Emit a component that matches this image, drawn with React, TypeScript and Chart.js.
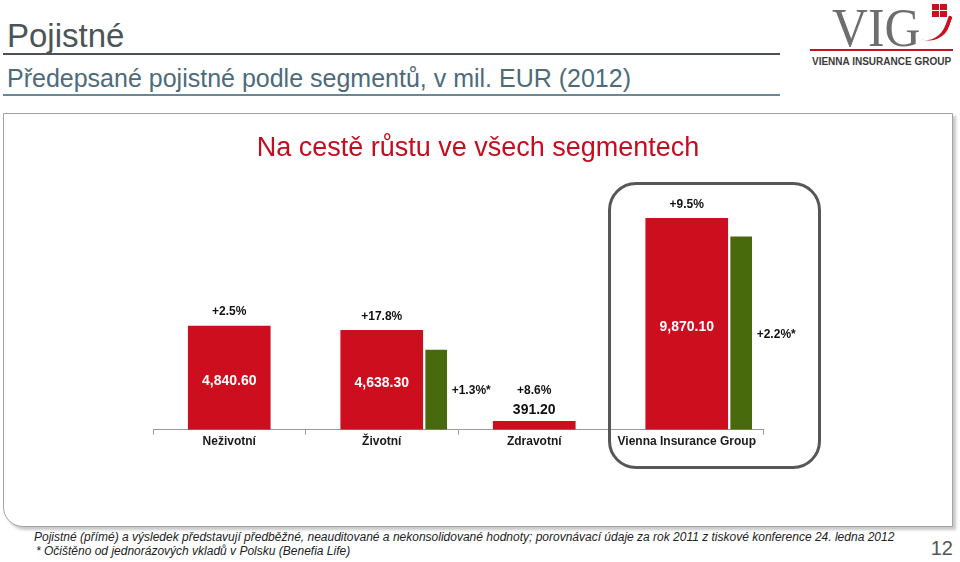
import React, { useEffect, useRef } from "react";
import { Chart, registerables } from "chart.js";

Chart.register(...registerables);

// ---- data ----
const categories = ["Neživotní", "Životní", "Zdravotní", "Vienna Insurance Group"];
const premiums2012 = [4840.6, 4638.3, 391.2, 9870.1];
const premiumsAdjusted: (number | null)[] = [null, 3720, null, 9010];
const growthLabels = ["+2.5%", "+17.8%", "+8.6%", "+9.5%"];
const adjustedGrowthLabels: (string | null)[] = [null, "+1.3%*", null, "+2.2%*"];
const valueLabels = ["4,840.60", "4,638.30", "391.20", "9,870.10"];
const chartTitle = "Na cestě růstu ve všech segmentech";

const RED = "#cc0e1f";
const GREEN = "#486a0c";
const FONT = "'Liberation Sans', Arial, Helvetica, sans-serif";

const labelPlugin = {
  id: "barLabels",
  afterDatasetsDraw(chart: any) {
    const ctx = chart.ctx;
    ctx.save();
    ctx.textAlign = "center";
    ctx.textBaseline = "middle";
    const red = chart.getDatasetMeta(0);
    red.data.forEach((bar: any, i: number) => {
      const { x, y, base } = bar.getProps(["x", "y", "base"], true);
      const h = base - y;
      if (h > 40) {
        ctx.fillStyle = "#ffffff";
        ctx.font = `bold 14px ${FONT}`;
        ctx.fillText(valueLabels[i], x, (y + base) / 2 + 3);
        ctx.fillStyle = "#111111";
        ctx.font = `bold 12px ${FONT}`;
        ctx.fillText(growthLabels[i], x, y - 14);
      } else {
        ctx.fillStyle = "#111111";
        ctx.font = `bold 14px ${FONT}`;
        ctx.fillText(valueLabels[i], x, y - 11);
        ctx.font = `bold 12px ${FONT}`;
        ctx.fillText(growthLabels[i], x, y - 31);
      }
    });
    const green = chart.getDatasetMeta(1);
    const gData = chart.data.datasets[1].data as any[];
    ctx.textAlign = "left";
    ctx.fillStyle = "#111111";
    ctx.font = `bold 12px ${FONT}`;
    green.data.forEach((bar: any, j: number) => {
      const { x, y, base, width } = bar.getProps(["x", "y", "base", "width"], true);
      const lbl = adjustedGrowthLabels[gData[j].idx];
      if (lbl) ctx.fillText(lbl, x + width / 2 + 5, (y + base) / 2 + 1);
    });
    ctx.restore();
  },
};

function BarChart() {
  const ref = useRef<HTMLCanvasElement>(null);
  useEffect(() => {
    if (!ref.current) return;
    const greenData = premiumsAdjusted
      .map((v, i) => (v == null ? null : { x: i + 0.357, y: v, idx: i }))
      .filter(Boolean);
    const chart = new Chart(ref.current, {
      type: "bar",
      data: {
        labels: categories,
        datasets: [
          { data: premiums2012, backgroundColor: RED, barThickness: 82, grouped: false, xAxisID: "x", yAxisID: "y" } as any,
          { data: greenData, backgroundColor: GREEN, barThickness: 21, grouped: false, xAxisID: "x2", yAxisID: "y" } as any,
        ],
      },
      options: {
        responsive: false,
        animation: false,
        events: [],
        layout: { padding: { left: 150, right: 190, top: 77, bottom: 77 } },
        plugins: {
          legend: { display: false },
          tooltip: { enabled: false },
          title: { display: false },
        },
        scales: {
          x: {
            type: "category",
            offset: true,
            grid: { display: true, offset: true, drawOnChartArea: false, drawTicks: true, tickLength: 5, color: "#9a9a9a" },
            border: { display: true, color: "#9a9a9a" },
            ticks: { color: "#1a1a1a", font: { size: 12, weight: "bold" as any, family: FONT }, padding: 0, maxRotation: 0, minRotation: 0, autoSkip: false },
          },
          x2: { type: "linear", display: false, min: -0.5, max: 3.5, offset: false },
          y: { display: false, min: 0, max: 11200 },
        } as any,
      },
      plugins: [labelPlugin],
    });
    return () => chart.destroy();
  }, []);
  return (
    <canvas ref={ref} width={950} height={413} style={{ position: "absolute", left: 3, top: 113, width: 950, height: 413 }} />
  );
}

export default function App() {
  return (
    <div style={{ position: "absolute", left: 0, top: 0, width: 960, height: 562, overflow: "hidden", background: "#fff", fontFamily: FONT }}>
      {/* header */}
      <div style={{ position: "absolute", left: 7, top: 19, fontSize: 33, lineHeight: "33px", color: "#4b5558", whiteSpace: "nowrap" }}>Pojistné</div>
      <div style={{ position: "absolute", left: 3, top: 53, width: 777, height: 2, background: "#4a5356" }} />
      <div style={{ position: "absolute", left: 7, top: 66, fontSize: 25, lineHeight: "25px", color: "#4d6b7a", whiteSpace: "nowrap" }}>Předepsané pojistné podle segmentů, v mil. EUR (2012)</div>
      <div style={{ position: "absolute", left: 3, top: 94, width: 777, height: 2, background: "#6a8796" }} />

      {/* logo */}
      <div style={{ position: "absolute", left: 832, top: 1, fontFamily: "'Liberation Serif', 'DejaVu Serif', serif", fontSize: 54, lineHeight: "54px", color: "#6d6e70", whiteSpace: "nowrap", transform: "scaleX(0.92)", transformOrigin: "left top" }}>VIG</div>
      <div style={{ position: "absolute", left: 932, top: 4, width: 7, height: 6, background: RED }} />
      <div style={{ position: "absolute", left: 940, top: 4, width: 7, height: 6, background: RED }} />
      <div style={{ position: "absolute", left: 932, top: 11, width: 7, height: 6, background: RED }} />
      <div style={{ position: "absolute", left: 940, top: 11, width: 7, height: 6, background: RED }} />
      <div style={{ position: "absolute", left: 926, top: 12, width: 22, height: 32, borderRight: "4px solid " + RED, borderRadius: "0 0 22px 0", boxSizing: "border-box", transform: "rotate(20deg)" }} />
      <div style={{ position: "absolute", left: 810, top: 49, width: 143, height: 2, background: RED }} />
      <div style={{ position: "absolute", left: 812, top: 56, fontSize: 10, lineHeight: "12px", fontWeight: "bold", color: "#3a3a3a", whiteSpace: "nowrap" }}>VIENNA INSURANCE GROUP</div>

      {/* panel */}
      <div style={{ position: "absolute", left: 3, top: 113, width: 950, height: 414, boxSizing: "border-box", border: "1px solid #a3a3a3", borderRadius: "0 0 0 20px", boxShadow: "3px 3px 3px rgba(0,0,0,0.22)", background: "#fff" }} />
      <BarChart />
      <div style={{ position: "absolute", left: 178, width: 600, top: 134, textAlign: "center", fontSize: 27, lineHeight: "27px", color: "#c40d1e", whiteSpace: "nowrap" }}>{chartTitle}</div>
      <div style={{ position: "absolute", left: 608, top: 182, width: 213, height: 287, boxSizing: "border-box", border: "3px solid #575757", borderRadius: 28 }} />

      {/* footer */}
      <div style={{ position: "absolute", left: 34, top: 530, fontSize: 12, lineHeight: "14px", fontStyle: "italic", color: "#222", whiteSpace: "nowrap" }}>
        Pojistné (přímé) a výsledek představují předběžné, neauditované a nekonsolidované hodnoty; porovnávací údaje za rok 2011 z tiskové konference 24. ledna 2012
      </div>
      <div style={{ position: "absolute", left: 36, top: 544, fontSize: 12, lineHeight: "14px", fontStyle: "italic", color: "#222", whiteSpace: "nowrap" }}>
        * Očištěno od jednorázových vkladů v Polsku (Benefia Life)
      </div>
      <div style={{ position: "absolute", left: 930, top: 537, width: 23, textAlign: "right", fontSize: 20, lineHeight: "22px", color: "#555" }}>12</div>
    </div>
  );
}
